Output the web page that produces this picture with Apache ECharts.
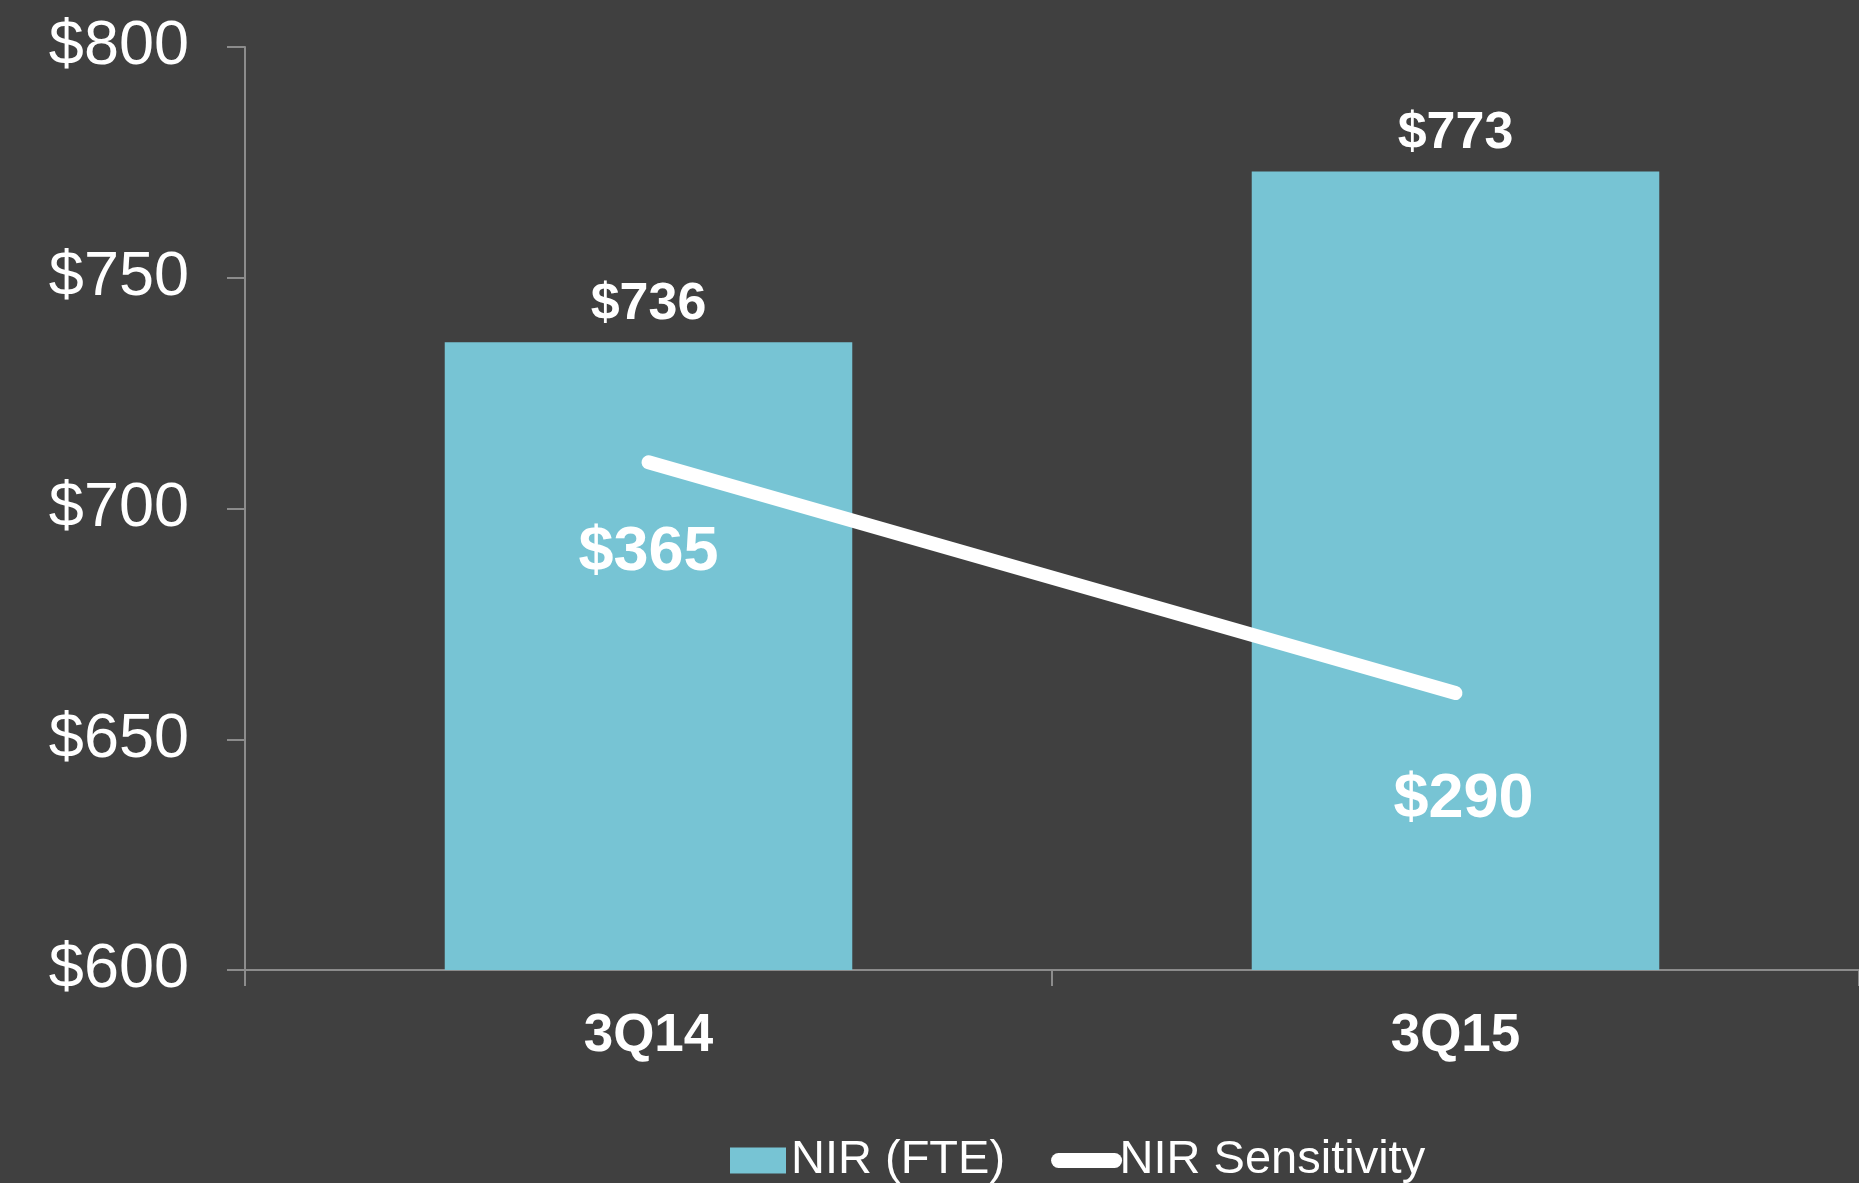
<!DOCTYPE html>
<html>
<head>
<meta charset="utf-8">
<script src="https://cdn.jsdelivr.net/npm/echarts@6/dist/echarts.min.js"></script>
<style>
  html, body { margin: 0; padding: 0; background: #404040; }
  #chart { width: 1859px; height: 1183px; }
</style>
</head>
<body>
<div id="chart"></div>
<script>
// categories and values
var quarters = ['3Q14', '3Q15'];
var nirFte = [736, 773];
var nirSensitivity = [365, 290];

// label placement below each line point
var sensLabelDist = [58, 75];
var sensLabelDx = [0, 8];

var chart = echarts.init(document.getElementById('chart'));

var option = {
    backgroundColor: '#404040',
    animation: false,
    textStyle: {
        fontFamily: 'Liberation Sans, Arial, sans-serif'
    },
    grid: {
        left: 245,
        right: 0,
        top: 47,
        bottom: 213
    },
    legend: {
        left: 725,
        top: 1132,
        itemWidth: 56,
        itemHeight: 26,
        itemGap: 46,
        textStyle: {
            color: '#ffffff',
            fontSize: 47
        },
        data: [
            { name: 'NIR (FTE)', icon: 'rect' },
            {
                name: 'NIR Sensitivity',
                itemStyle: { opacity: 0 },
                lineStyle: { width: 15, cap: 'round' }
            }
        ]
    },
    xAxis: {
        type: 'category',
        data: quarters,
        axisLine: { lineStyle: { color: '#8c8c8c', width: 2 } },
        axisTick: { show: true, length: 16, lineStyle: { color: '#8c8c8c', width: 2 } },
        axisLabel: {
            color: '#ffffff',
            fontSize: 53,
            fontWeight: 'bold',
            margin: 40
        }
    },
    yAxis: [
        {
            type: 'value',
            min: 600,
            max: 800,
            interval: 50,
            splitLine: { show: false },
            axisLine: { show: true, lineStyle: { color: '#8c8c8c', width: 2 } },
            axisTick: { show: true, length: 18, lineStyle: { color: '#8c8c8c', width: 2 } },
            axisLabel: {
                color: '#ffffff',
                fontSize: 63,
                margin: 56,
                formatter: function (v) { return '$' + v; }
            }
        },
        {
            // hidden scale for the sensitivity line
            type: 'value',
            min: 200,
            max: 500,
            show: false,
            splitLine: { show: false }
        }
    ],
    series: [
        {
            name: 'NIR (FTE)',
            type: 'bar',
            data: nirFte,
            barWidth: '50.5%',
            itemStyle: { color: '#77c4d4' },
            label: {
                show: true,
                position: 'top',
                distance: 12,
                color: '#ffffff',
                fontSize: 52,
                fontWeight: 'bold',
                formatter: function (p) { return '$' + p.value; }
            }
        },
        {
            name: 'NIR Sensitivity',
            type: 'line',
            yAxisIndex: 1,
            data: nirSensitivity.map(function (v, i) {
                return {
                    value: v,
                    label: { distance: sensLabelDist[i], offset: [sensLabelDx[i], 0] }
                };
            }),
            symbol: 'circle',
            symbolSize: 1,
            itemStyle: { color: '#ffffff' },
            lineStyle: { color: '#ffffff', width: 14, cap: 'round' },
            label: {
                show: true,
                position: 'bottom',
                color: '#ffffff',
                fontSize: 63,
                fontWeight: 'bold',
                formatter: function (p) { return '$' + p.value; }
            }
        }
    ]
};

chart.setOption(option);
</script>
</body>
</html>
